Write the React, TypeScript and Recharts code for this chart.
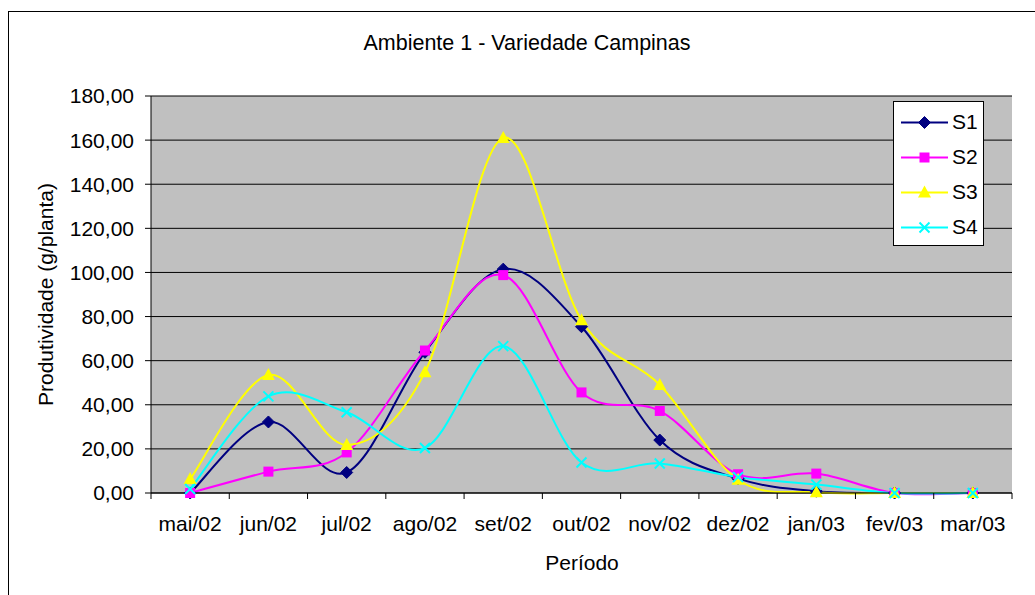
import React from 'react';
import { LineChart, Line, XAxis, YAxis, CartesianGrid } from 'recharts';

const periods = ['mai/02', 'jun/02', 'jul/02', 'ago/02', 'set/02', 'out/02', 'nov/02', 'dez/02', 'jan/03', 'fev/03', 'mar/03'];
const s1 = [0, 32.2, 9.3, 63.8, 101.5, 75.4, 24.0, 6.5, 0.8, 0, 0];
const s2 = [0, 9.7, 18.4, 64.6, 98.8, 45.6, 37.2, 8.5, 8.8, 0, 0];
const s3 = [6.3, 53.5, 21.8, 54.8, 161.0, 78.3, 49.0, 6.0, 0.3, 0, 0];
const s4 = [1.8, 43.8, 36.6, 20.4, 66.6, 13.8, 13.4, 7.2, 3.8, 0, 0];
const yTicks = [0, 20, 40, 60, 80, 100, 120, 140, 160, 180];

const seriesNames = ['S1', 'S2', 'S3', 'S4'];
const seriesColors = ['#000080', '#FF00FF', '#FFFF00', '#00FFFF'];
const seriesMarkers = ['diamond', 'square', 'triangle', 'x'];

const data = periods.map((p, i) => ({ period: p, S1: s1[i], S2: s2[i], S3: s3[i], S4: s4[i] }));

const FONT = '"Liberation Sans", Arial, sans-serif';
const PLOT_W = 861;
const HALF_BAND = PLOT_W / periods.length / 2;

// Excel-like smoothing: Catmull-Rom spline through the points
const excelSmooth = (context: any) => {
  let pts: number[][] = [];
  return {
    areaStart() {},
    areaEnd() {},
    lineStart() {
      pts = [];
    },
    point(x: number, y: number) {
      pts.push([+x, +y]);
    },
    lineEnd() {
      const n = pts.length;
      if (!n) return;
      context.moveTo(pts[0][0], pts[0][1]);
      for (let i = 0; i < n - 1; i++) {
        const p0 = pts[Math.max(i - 1, 0)];
        const p1 = pts[i];
        const p2 = pts[i + 1];
        const p3 = pts[Math.min(i + 2, n - 1)];
        context.bezierCurveTo(
          p1[0] + (p2[0] - p0[0]) / 6,
          p1[1] + (p2[1] - p0[1]) / 6,
          p2[0] - (p3[0] - p1[0]) / 6,
          p2[1] - (p3[1] - p1[1]) / 6,
          p2[0],
          p2[1]
        );
      }
    },
  };
};

const Marker = ({ kind, cx, cy, color }: { kind: string; cx: number; cy: number; color: string }) => {
  if (kind === 'diamond') {
    return <polygon points={`${cx},${cy - 6} ${cx + 6},${cy} ${cx},${cy + 6} ${cx - 6},${cy}`} fill={color} stroke={color} />;
  }
  if (kind === 'square') {
    return <rect x={cx - 5} y={cy - 5} width={10} height={10} fill={color} />;
  }
  if (kind === 'triangle') {
    return <polygon points={`${cx},${cy - 7} ${cx + 6.5},${cy + 5} ${cx - 6.5},${cy + 5}`} fill={color} />;
  }
  return (
    <path
      d={`M${cx - 5},${cy - 5}L${cx + 5},${cy + 5}M${cx + 5},${cy - 5}L${cx - 5},${cy + 5}`}
      stroke={color}
      strokeWidth={2}
      fill="none"
    />
  );
};

const XTick = (props: any) => {
  const { x, y, payload, index } = props;
  return (
    <g>
      <line x1={x - HALF_BAND} x2={x - HALF_BAND} y1={y} y2={y + 6} stroke="#000" />
      {index === periods.length - 1 && <line x1={x + HALF_BAND} x2={x + HALF_BAND} y1={y} y2={y + 6} stroke="#000" />}
      <text x={x} y={y + 38} textAnchor="middle" fontSize={21} fontFamily={FONT} fill="#000">
        {payload.value}
      </text>
    </g>
  );
};

const YLabel = (props: any) => {
  const { viewBox } = props;
  const cx = viewBox.x + 45;
  const cy = viewBox.y + viewBox.height / 2;
  return (
    <text
      x={cx}
      y={cy}
      transform={`rotate(-90, ${cx}, ${cy})`}
      textAnchor="middle"
      dominantBaseline="central"
      fontSize={21}
      fontFamily={FONT}
      fill="#000"
    >
      Produtividade (g/planta)
    </text>
  );
};

const fmt = (v: number) => v.toFixed(2).replace('.', ',');

export default function App() {
  return (
    <div style={{ position: 'absolute', left: 0, top: 0, width: 1035, height: 595, overflow: 'hidden', background: '#fff', fontFamily: FONT }}>
      <div style={{ position: 'absolute', left: 8, top: 11, width: 1100, height: 700, borderLeft: '1px solid #000', borderTop: '1px solid #000' }} />
      <div style={{ position: 'absolute', left: 527, top: 31, transform: 'translateX(-50%)', whiteSpace: 'nowrap', fontSize: 21.5, lineHeight: '24px', color: '#000' }}>
        Ambiente 1 - Variedade Campinas
      </div>
      <div style={{ position: 'absolute', left: 582, top: 551, transform: 'translateX(-50%)', whiteSpace: 'nowrap', fontSize: 21, lineHeight: '24px', color: '#000' }}>
        Período
      </div>
      <div style={{ position: 'absolute', left: 0, top: 0 }}>
        <LineChart width={1035} height={595} data={data} margin={{ top: 96, right: 23, bottom: 42, left: 0 }}>
          <CartesianGrid vertical={false} stroke="#000" fill="#C0C0C0" />
          <XAxis
            dataKey="period"
            height={60}
            padding={{ left: HALF_BAND, right: HALF_BAND }}
            axisLine={{ stroke: '#000' }}
            tickLine={false}
            tickSize={0}
            tickMargin={0}
            interval={0}
            tick={<XTick />}
          />
          <XAxis xAxisId="top" dataKey="period" orientation="top" height={0} axisLine={{ stroke: '#808080' }} tick={false} tickLine={false} />
          <YAxis
            width={151}
            domain={[0, 180]}
            ticks={yTicks}
            tickFormatter={fmt}
            axisLine={{ stroke: '#000' }}
            tickLine={{ stroke: '#000' }}
            tickSize={6}
            tickMargin={11}
            tick={{ fontSize: 21, fontFamily: FONT, fill: '#000' }}
            label={<YLabel />}
          />
          <YAxis yAxisId="r" orientation="right" width={0} domain={[0, 180]} axisLine={{ stroke: '#808080' }} tick={false} tickLine={false} />
          {seriesNames.map((name, si) => (
            <Line
              key={name}
              dataKey={name}
              type={excelSmooth as any}
              stroke={seriesColors[si]}
              strokeWidth={2}
              isAnimationActive={false}
              dot={(p: any) => (
                <Marker key={`${name}-${p.index}`} kind={seriesMarkers[si]} cx={p.cx} cy={p.cy} color={seriesColors[si]} />
              )}
              activeDot={false}
            />
          ))}
        </LineChart>
      </div>
      <div
        style={{
          position: 'absolute',
          left: 893,
          top: 101,
          width: 89,
          height: 140,
          background: '#fff',
          border: '1px solid #000',
          paddingTop: 3,
          boxSizing: 'content-box',
        }}
      >
        {seriesNames.map((name, si) => (
          <div key={name} style={{ position: 'relative', height: 35 }}>
            <svg width={50} height={35} style={{ position: 'absolute', left: 6, top: 0 }}>
              <line x1={1} x2={48} y1={17.5} y2={17.5} stroke={seriesColors[si]} strokeWidth={2} />
              <Marker kind={seriesMarkers[si]} cx={24.5} cy={17.5} color={seriesColors[si]} />
            </svg>
            <span style={{ position: 'absolute', left: 58, top: 5, fontSize: 21, lineHeight: '24px', color: '#000' }}>{name}</span>
          </div>
        ))}
      </div>
    </div>
  );
}
